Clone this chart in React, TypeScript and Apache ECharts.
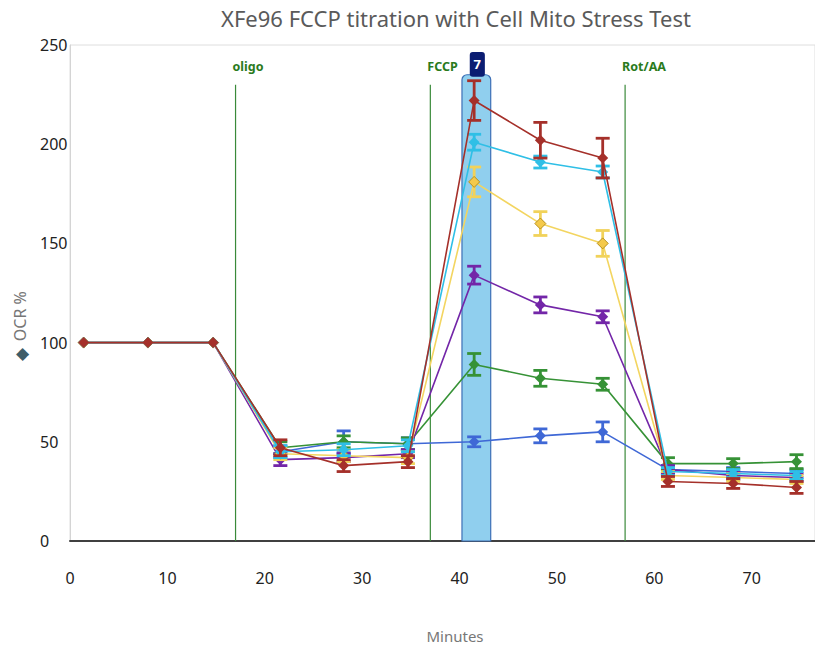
import React, { useEffect, useRef } from "react";
import * as echarts from "echarts";

const chartTitle = "XFe96 FCCP titration with Cell Mito Stress Test";
const xAxisName = "Minutes";
const yAxisName = "OCR %";

const times = [1.4, 8.0, 14.7, 21.6, 28.1, 34.7, 41.5, 48.3, 54.7, 61.4, 68.1, 74.6];

const blueOcr = [100, 100, 100, 45, 50, 49, 50, 53, 55, 36, 35, 34];
const blueErr = [0, 0, 0, 3, 5.5, 3, 2.5, 3.5, 5, 2, 2, 2];
const greenOcr = [100, 100, 100, 47, 50, 49, 89, 82, 79, 39, 39, 40];
const greenErr = [0, 0, 0, 3, 3, 3, 5.5, 4, 3, 3, 2.5, 3.5];
const purpleOcr = [100, 100, 100, 41, 42, 44, 134, 119, 113, 36, 33, 32];
const purpleErr = [0, 0, 0, 3, 2, 2, 4.5, 4, 3, 2, 2, 2];
const yellowOcr = [100, 100, 100, 44, 43, 42, 181, 160, 150, 33, 32, 31];
const yellowErr = [0, 0, 0, 3, 3, 3, 7.5, 6, 6.5, 2, 2, 2];
const cyanOcr = [100, 100, 100, 45, 46, 48, 201, 191, 186, 35, 34, 33];
const cyanErr = [0, 0, 0, 3, 3, 3, 4, 3, 3, 2, 2, 2];
const redOcr = [100, 100, 100, 47, 38, 40, 222, 202, 193, 30, 29, 27];
const redErr = [0, 0, 0, 4, 3, 3, 10, 9, 10, 2.5, 2.5, 3];

const injectionTimes = [17, 37, 57];
const injectionLabels = ["oligo", "FCCP", "Rot/AA"];

const highlightStart = 40.25;
const highlightEnd = 43.2;
const highlightLabel = "7";

const FONT = "'Noto Sans', 'Open Sans', sans-serif";

type S = { name: string; values: number[]; errs: number[]; color: string; fill?: string; border?: string };

const seriesDefs: S[] = [
  { name: "blue", values: blueOcr, errs: blueErr, color: "#3f68d6" },
  { name: "green", values: greenOcr, errs: greenErr, color: "#369236" },
  { name: "purple", values: purpleOcr, errs: purpleErr, color: "#7326a8" },
  { name: "yellow", values: yellowOcr, errs: yellowErr, color: "#f3d560", fill: "#f4c94a", border: "#b8901a" },
  { name: "cyan", values: cyanOcr, errs: cyanErr, color: "#2fbfe6" },
  { name: "red", values: redOcr, errs: redErr, color: "#a5302a" },
];

export default function App() {
  const ref = useRef<HTMLDivElement>(null);
  useEffect(() => {
    document.body.style.margin = "0";
    const chart = echarts.init(ref.current!, undefined, { renderer: "svg" });

    const series: any[] = [];
    series.push({
      type: "custom",
      z: 1,
      silent: true,
      data: [[(highlightStart + highlightEnd) / 2, 0]],
      encode: { x: 0, y: 1 },
      renderItem: (_p: any, api: any) => {
        const a = api.coord([highlightStart, 235]);
        const b = api.coord([highlightEnd, 0]);
        const c0 = api.coord([41.05, 246.5]);
        const c1 = api.coord([42.6, 234]);
        return {
          type: "group",
          children: [
            {
              type: "rect",
              shape: { x: a[0], y: a[1], width: b[0] - a[0], height: b[1] - a[1], r: [5, 5, 0, 0] },
              style: { fill: "#90cfee", stroke: "#3d6fb6", lineWidth: 1.2 },
            },
            {
              type: "rect",
              shape: { x: c0[0], y: c0[1], width: c1[0] - c0[0], height: c1[1] - c0[1], r: 3 },
              style: { fill: "#0b1d72" },
              z2: 10,
            },
            {
              type: "text",
              x: (c0[0] + c1[0]) / 2,
              y: (c0[1] + c1[1]) / 2,
              z2: 11,
              style: {
                text: highlightLabel,
                fill: "#ffffff",
                font: `bold 13px ${FONT}`,
                align: "center",
                verticalAlign: "middle",
              },
            },
          ],
        };
      },
    });
    series.push({
      type: "custom",
      z: 2,
      silent: true,
      data: injectionTimes.map((t) => [t, 0]),
      encode: { x: 0, y: 1 },
      renderItem: (p: any, api: any) => {
        const x = api.value(0);
        const b = api.coord([x, 0]);
        const t = api.coord([x, 230]);
        const l = api.coord([x, 239]);
        return {
          type: "group",
          children: [
            {
              type: "line",
              shape: { x1: b[0], y1: b[1], x2: t[0], y2: t[1] },
              style: { stroke: "#3a8a3a", lineWidth: 1.2 },
            },
            {
              type: "text",
              x: l[0] - 3,
              y: l[1],
              style: {
                text: injectionLabels[p.dataIndex],
                fill: "#2a7a1c",
                font: `bold 12.5px ${FONT}`,
                align: "left",
                verticalAlign: "middle",
              },
            },
          ],
        };
      },
    });

    seriesDefs.forEach((s, k) => {
      series.push({
        type: "custom",
        name: s.name + "-err",
        z: 3 + k * 2,
        silent: true,
        data: times.map((t, i) => [t, s.values[i], s.errs[i]]),
        encode: { x: 0, y: 1 },
        renderItem: (_p: any, api: any) => {
          const x = api.value(0);
          const y = api.value(1);
          const e = api.value(2);
          if (!e) return null;
          const top = api.coord([x, y + e]);
          const bot = api.coord([x, y - e]);
          const hw = 7;
          const st = { stroke: s.border ? "#f1d25a" : s.color, lineWidth: 2.8 };
          return {
            type: "group",
            children: [
              { type: "line", shape: { x1: top[0], y1: top[1], x2: bot[0], y2: bot[1] }, style: st },
              { type: "line", shape: { x1: top[0] - hw, y1: top[1], x2: top[0] + hw, y2: top[1] }, style: st },
              { type: "line", shape: { x1: bot[0] - hw, y1: bot[1], x2: bot[0] + hw, y2: bot[1] }, style: st },
            ],
          };
        },
      });
      series.push({
        type: "line",
        name: s.name,
        z: 4 + k * 2,
        data: times.map((t, i) => [t, s.values[i]]),
        symbol: "diamond",
        symbolSize: 11,
        showSymbol: true,
        lineStyle: { color: s.color, width: 1.6 },
        itemStyle: s.fill
          ? { color: s.fill, borderColor: s.border, borderWidth: 1 }
          : { color: s.color },
      });
    });

    chart.setOption({
      animation: false,
      grid: {
        left: 70,
        top: 45,
        right: 0,
        bottom: 106,
        show: true,
        borderColor: "#dedede",
        borderWidth: 1,
      },
      xAxis: {
        type: "value",
        min: 0,
        max: 76.5,
        interval: 10,
        axisLine: { show: true, lineStyle: { color: "#404040", width: 2 } },
        axisTick: { show: false },
        splitLine: { show: false },
        axisLabel: { margin: 29, fontSize: 16, color: "#222", fontFamily: FONT, showMaxLabel: false },
      },
      yAxis: {
        type: "value",
        min: 0,
        max: 250,
        interval: 50,
        axisLine: { show: true, lineStyle: { color: "#d4d4d4", width: 1 } },
        axisTick: { show: false },
        splitLine: { show: false },
        axisLabel: { margin: 30, align: "left", fontSize: 16, color: "#222", fontFamily: FONT },
      },
      graphic: [
        {
          type: "text",
          x: 456,
          y: 18,
          style: {
            text: chartTitle,
            fill: "#5a5a5a",
            font: `22px ${FONT}`,
            align: "center",
            verticalAlign: "middle",
          },
        },
        {
          type: "text",
          x: 455,
          y: 636,
          style: {
            text: xAxisName,
            fill: "#777",
            font: `15px ${FONT}`,
            align: "center",
            verticalAlign: "middle",
          },
        },
        {
          type: "text",
          x: 20,
          y: 326,
          rotation: Math.PI / 2,
          style: {
            text: "{d|◆}  {t|" + yAxisName + "}",
            align: "center",
            verticalAlign: "middle",
            rich: {
              d: { fill: "#3d5d6a", fontSize: 17, fontFamily: FONT },
              t: { fill: "#777", fontSize: 16, fontFamily: FONT },
            },
          },
        },
      ],
      series,
    });
    return () => chart.dispose();
  }, []);
  return <div ref={ref} style={{ width: 815, height: 647 }} />;
}
